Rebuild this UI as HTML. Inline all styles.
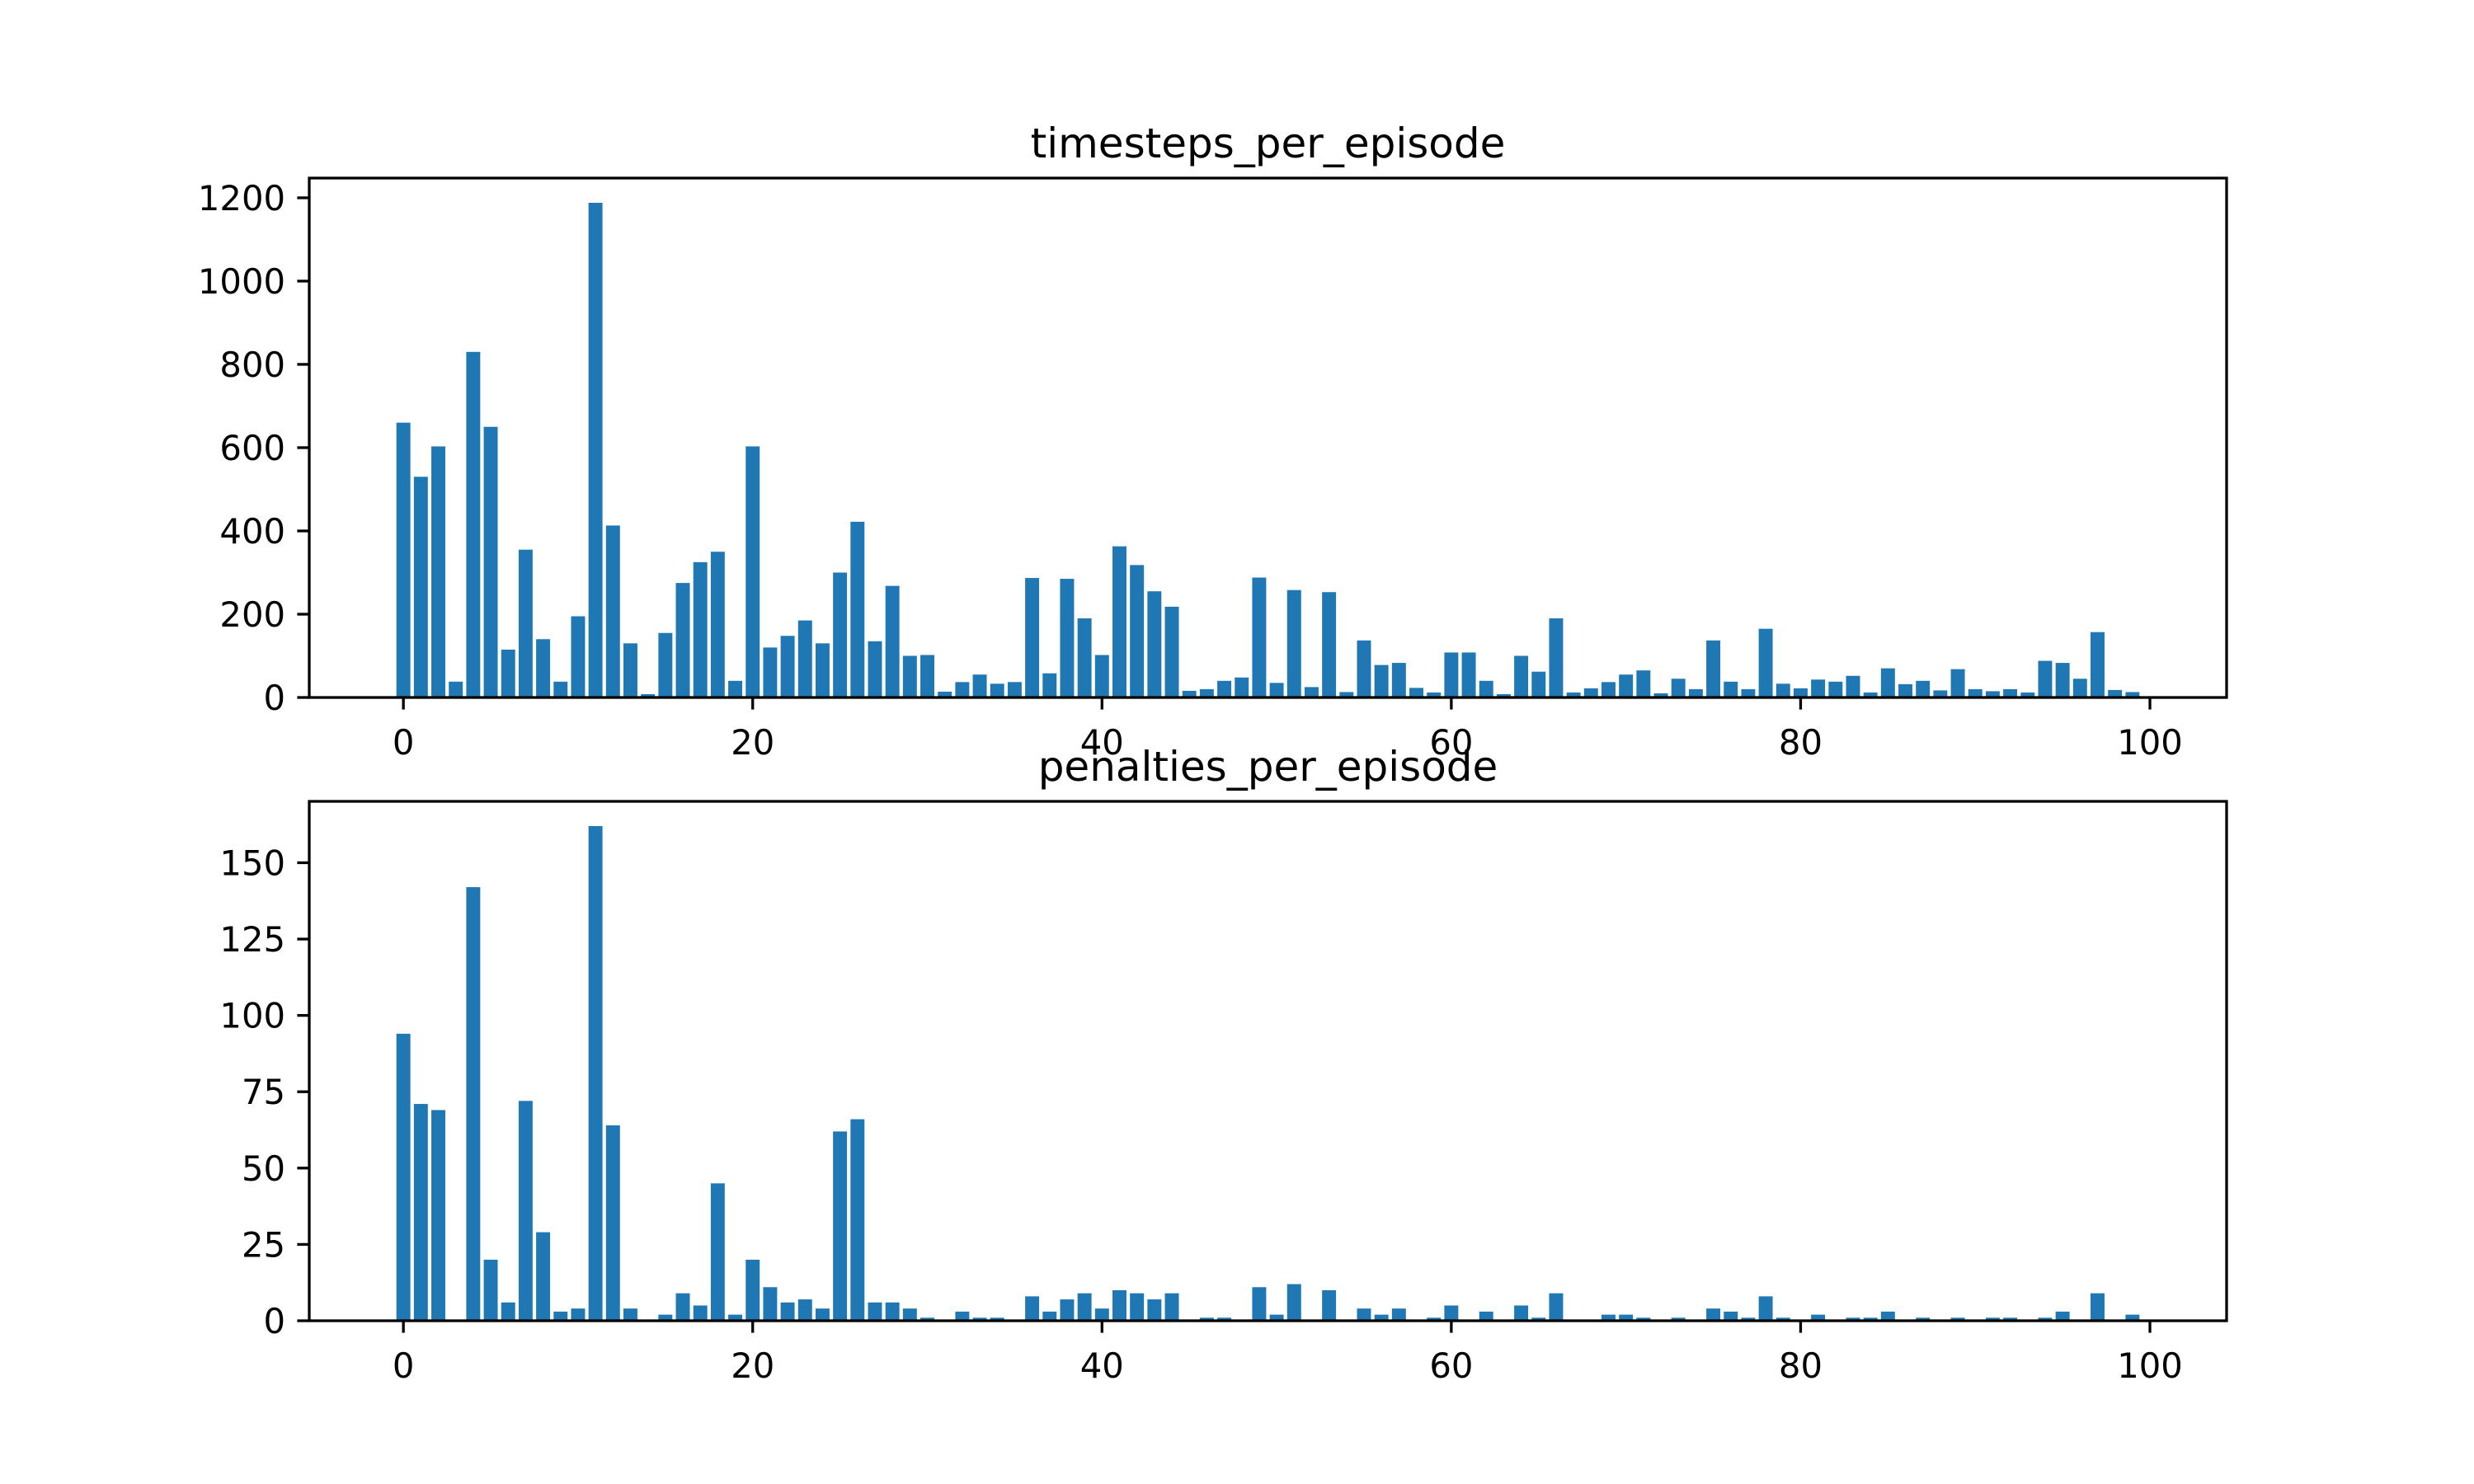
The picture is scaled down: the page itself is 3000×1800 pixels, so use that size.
<!DOCTYPE html>
<html><head><meta charset="utf-8"><style>
html,body{margin:0;padding:0;background:#fff;}
svg{display:block;font-family:"DejaVu Sans","Liberation Sans",sans-serif;}
</style></head><body>
<svg id="chart" width="3000" height="1800" viewBox="0 0 3000 1800" xmlns="http://www.w3.org/2000/svg"></svg>
<script>
const timesteps = [660,530,603,38,830,650,115,355,140,38,195,1188,413,130,8,155,275,325,350,40,603,120,148,185,130,300,422,135,268,100,102,14,37,55,33,37,287,58,285,190,102,363,318,255,218,16,20,40,48,288,35,258,25,253,13,137,78,83,23,12,108,108,40,8,100,62,190,12,22,37,55,65,10,45,20,137,38,20,165,33,22,43,38,52,12,70,32,40,17,68,20,15,20,12,88,83,45,157,18,13];
const penalties = [94,71,69,0,142,20,6,72,29,3,4,162,64,4,0,2,9,5,45,2,20,11,6,7,4,62,66,6,6,4,1,0,3,1,1,0,8,3,7,9,4,10,9,7,9,0,1,1,0,11,2,12,0,10,0,4,2,4,0,1,5,0,3,0,5,1,9,0,0,2,2,1,0,1,0,4,3,1,8,1,0,2,0,1,1,3,0,1,0,1,0,1,1,0,1,3,0,9,0,2];
const xTicks = [0,20,40,60,80,100];
const yTicksTop = [0,200,400,600,800,1000,1200];
const yTicksBottom = [0,25,50,75,100,125,150];
const titles = ["timesteps_per_episode","penalties_per_episode"];

const svg = document.getElementById('chart');
const NS = 'http://www.w3.org/2000/svg';
function mk(tag, attrs, parent){
  const e = document.createElementNS(NS, tag);
  for (const k in attrs) e.setAttribute(k, attrs[k]);
  (parent||svg).appendChild(e);
  return e;
}
const L = 375, R = 2700;
function drawPanel(vals, yTicks, top, bottom, title, key){
  const g = mk('g', {});
  
  
  const n = vals.length;
  const xmin = -0.4 - 0.05*(n-1+0.8), xmax = n-1+0.4 + 0.05*(n-1+0.8);
  const ymax = Math.max(...vals) * 1.05;
  const xs = v => L + (v - xmin) / (xmax - xmin) * (R - L);
  const ys = v => bottom - v / ymax * (bottom - top);
  vals.forEach((v, i) => {
    const b = mk('rect', {x: xs(i-0.4), y: ys(v), width: xs(i+0.4)-xs(i-0.4), height: bottom - ys(v), fill: '#1f77b4'}, g);
    
    
  });
  const frame = mk('rect', {x: L, y: top, width: R-L, height: bottom-top, fill: 'none', stroke: '#000', 'stroke-width': 3.3}, g);
  
  
  xTicks.forEach(t => {
    mk('line', {x1: xs(t), x2: xs(t), y1: bottom, y2: bottom+14.6, stroke: '#000', 'stroke-width': 3.3}, g);
    const tx = mk('text', {x: xs(t), y: bottom+29+40, 'font-size': 41.7, 'text-anchor': 'middle', fill: '#000'}, g);
    tx.textContent = t;
    
    
  });
  yTicks.forEach(t => {
    mk('line', {x1: L-14.6, x2: L, y1: ys(t), y2: ys(t), stroke: '#000', 'stroke-width': 3.3}, g);
    const ty = mk('text', {x: L-29, y: ys(t)+15, 'font-size': 41.7, 'text-anchor': 'end', fill: '#000'}, g);
    ty.textContent = t;
    
    
  });
  const tt = mk('text', {x: (L+R)/2, y: top-25, 'font-size': 50, 'text-anchor': 'middle', fill: '#000'}, g);
  tt.textContent = title;
  
  
}
drawPanel(timesteps, yTicksTop, 216, 846, titles[0], 'timesteps');
drawPanel(penalties, yTicksBottom, 972, 1602, titles[1], 'penalties');
</script>
</body></html>
